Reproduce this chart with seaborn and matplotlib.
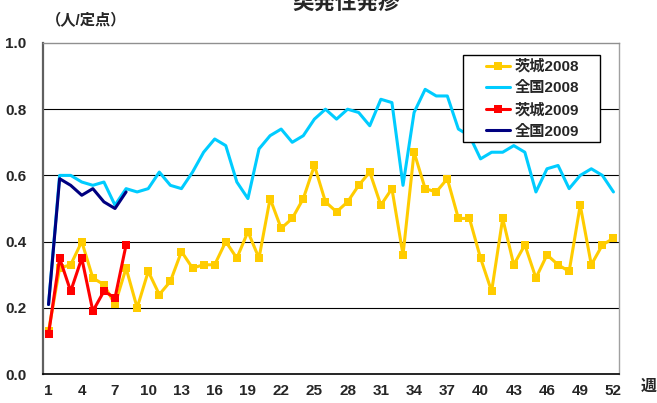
import numpy as np
import pandas as pd
import matplotlib
matplotlib.use("Agg")
import matplotlib.pyplot as plt
from matplotlib.patches import Rectangle
import seaborn as sns

weeks = list(range(1, 53))
ibaraki_2008 = [0.13, 0.32, 0.33, 0.40, 0.29, 0.27, 0.21, 0.32, 0.20, 0.31,
                0.24, 0.28, 0.37, 0.32, 0.33, 0.33, 0.40, 0.35, 0.43, 0.35,
                0.53, 0.44, 0.47, 0.53, 0.63, 0.52, 0.49, 0.52, 0.57, 0.61,
                0.51, 0.56, 0.36, 0.67, 0.56, 0.55, 0.59, 0.47, 0.47, 0.35,
                0.25, 0.47, 0.33, 0.39, 0.29, 0.36, 0.33, 0.31, 0.51, 0.33,
                0.39, 0.41]
zenkoku_2008 = [0.21, 0.60, 0.60, 0.58, 0.57, 0.58, 0.51, 0.56, 0.55, 0.56,
                0.61, 0.57, 0.56, 0.61, 0.67, 0.71, 0.69, 0.58, 0.53, 0.68,
                0.72, 0.74, 0.70, 0.72, 0.77, 0.80, 0.77, 0.80, 0.79, 0.75,
                0.83, 0.82, 0.57, 0.79, 0.86, 0.84, 0.84, 0.74, 0.72, 0.65,
                0.67, 0.67, 0.69, 0.67, 0.55, 0.62, 0.63, 0.56, 0.60, 0.62,
                0.60, 0.55]
weeks_2009 = list(range(1, 9))
ibaraki_2009 = [0.12, 0.35, 0.25, 0.35, 0.19, 0.25, 0.23, 0.39]
zenkoku_2009 = [0.21, 0.59, 0.57, 0.54, 0.56, 0.52, 0.50, 0.55]

title = "突発性発疹"
ylabel = "（人/定点）"
xlabel = "週"
series_names = ["茨城2008", "全国2008", "茨城2009", "全国2009"]
xtick_labels = [str(w) for w in range(1, 53, 3)]
ytick_values = [0.0, 0.2, 0.4, 0.6, 0.8, 1.0]

sns.set_style("white")
plt.rcParams['font.family'] = ['Liberation Sans', 'Noto Sans CJK JP']
plt.rcParams['font.weight'] = 'bold'

W, H = 657, 403
fig = plt.figure(figsize=(W / 100, H / 100), dpi=100)
L, R, T, B = 43, 619, 43, 374
ax = fig.add_axes([L / W, 1 - B / H, (R - L) / W, (B - T) / H])

df08 = pd.DataFrame({"week": weeks, "ib": ibaraki_2008, "zk": zenkoku_2008})
df09 = pd.DataFrame({"week": weeks_2009, "ib": ibaraki_2009, "zk": zenkoku_2009})

sns.lineplot(data=df08, x="week", y="ib", ax=ax, color="#FFCC00", lw=2.2,
             marker="s", markersize=6, markeredgewidth=0, label=series_names[0], zorder=3)
sns.lineplot(data=df08, x="week", y="zk", ax=ax, color="#00CCFF", lw=2.2,
             label=series_names[1], zorder=2)
sns.lineplot(data=df09, x="week", y="ib", ax=ax, color="#FF0000", lw=2.2,
             marker="s", markersize=6, markeredgewidth=0, label=series_names[2], zorder=4)
sns.lineplot(data=df09, x="week", y="zk", ax=ax, color="#000080", lw=2.2,
             label=series_names[3], zorder=4)

ax.set_xlim(0.5, 52.5)
ax.set_ylim(0, 1.0)
ax.set_xlabel("")
ax.set_ylabel("")

ax.set_xticks(list(range(1, 53, 3)))
ax.set_xticklabels(xtick_labels, fontsize=11, fontweight='bold')
ax.set_xticks(np.arange(0.5, 53, 1), minor=True)
ax.tick_params(axis='x', which='major', length=0, pad=7)
ax.tick_params(axis='x', which='minor', direction='in', length=3.5, width=0.8, color='black')
ax.set_yticks(ytick_values)
ax.set_yticklabels([f"{v:.1f}" for v in ytick_values], fontsize=11, fontweight='bold')
ax.tick_params(axis='y', length=0, pad=12)

for y in [0.2, 0.4, 0.6, 0.8]:
    ax.axhline(y, color='black', lw=0.8, zorder=1)

ax.spines['left'].set_color('#606060')
ax.spines['left'].set_linewidth(1.6)
ax.spines['bottom'].set_color('black')
ax.spines['bottom'].set_linewidth(1.2)
ax.spines['top'].set_color('#909090')
ax.spines['top'].set_linewidth(1.0)
ax.spines['right'].set_color('#a0a0a0')
ax.spines['right'].set_linewidth(1.0)

# legend box (pixel geometry of the reference)
bx0, bx1, by0, by1 = 463, 600.5, 55.5, 141.5
def ax_frac(px, py):
    return ((px - L) / (R - L), (B - py) / (B - T))
x0, y1 = ax_frac(bx0, by1)
x1, y0 = ax_frac(bx1, by0)
ax.add_patch(Rectangle((x0, y1), x1 - x0, y0 - y1, transform=ax.transAxes,
                       facecolor='white', edgecolor='black', lw=1.0, zorder=5))
cx, cy = ax_frac((bx0 + bx1) / 2 + 1, (by0 + by1) / 2 + 0.5)
leg = ax.legend(loc='center', bbox_to_anchor=(cx, cy), frameon=False,
                fontsize=11, handlelength=1.55, handletextpad=0.3,
                borderpad=0, borderaxespad=0, labelspacing=0.48, markerscale=0.85)
leg.set_zorder(6)
for t in leg.get_texts():
    t.set_fontweight('bold')

fig.text(346 / W, 1 - 8.5 / H, title, ha='center', va='baseline', fontsize=15.5, fontweight='bold')
fig.text(86 / W, 1 - 21 / H, ylabel, ha='center', va='center', fontsize=11, fontweight='bold')
fig.text(649 / W, 1 - 386 / H, xlabel, ha='center', va='center', fontsize=11.5, fontweight='bold')

fig.savefig("out.png", dpi=100)
